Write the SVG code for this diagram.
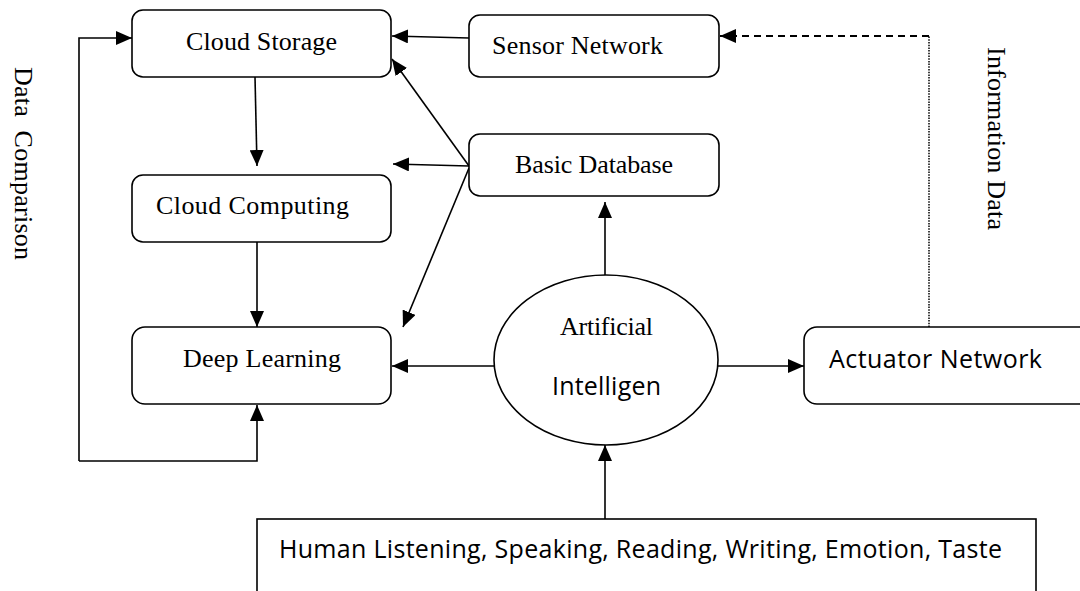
<svg xmlns="http://www.w3.org/2000/svg" width="1080" height="591" viewBox="0 0 1080 591">
<style>
.box{fill:#fff;stroke:#000;stroke-width:1.6}
.ser{font-family:"Liberation Serif","Times New Roman",serif;font-size:26px;fill:#000}
.sans{font-family:"Open Sans","Liberation Sans",sans-serif;font-size:25px;fill:#000}
.ln{fill:none;stroke:#000;stroke-width:1.6}
</style>
<defs>
<marker id="ah" markerUnits="userSpaceOnUse" markerWidth="16" markerHeight="14" refX="16" refY="7" orient="auto" viewBox="0 0 16 14">
<path d="M0,0 L16,7 L0,14 z" fill="#000"/>
</marker>
</defs>
<rect width="1080" height="591" fill="#fff"/>
<g id="connectors">
<path class="ln" d="M79,461 L79,38 L132,38" marker-end="url(#ah)"/>
<path class="ln" d="M79,461 L257,461 L257,405" marker-end="url(#ah)"/>
<path class="ln" d="M469,38 L392,36" marker-end="url(#ah)"/>
<path class="ln" d="M469,166 L392,59" marker-end="url(#ah)"/>
<path class="ln" d="M469,166 L393,164" marker-end="url(#ah)"/>
<path class="ln" d="M469,168 L403,327" marker-end="url(#ah)"/>
<path class="ln" d="M255,77 L257,166" marker-end="url(#ah)"/>
<path class="ln" d="M257,242 L257,327" marker-end="url(#ah)"/>
<path class="ln" d="M494,366 L392,366" marker-end="url(#ah)"/>
<path class="ln" d="M718,366 L804,366" marker-end="url(#ah)"/>
<path class="ln" d="M605,275 L605,202" marker-end="url(#ah)"/>
<path class="ln" d="M605,519 L605,445" marker-end="url(#ah)"/>
<path fill="none" stroke="#000" stroke-width="1.5" stroke-dasharray="1.5,1.2" d="M929,327 L929,36"/>
<path fill="none" stroke="#000" stroke-width="2" stroke-dasharray="7,5" d="M929,36 L720,36" marker-end="url(#ah)"/>
</g>
<g id="cloud-storage">
<rect class="box" x="132" y="10" width="259" height="67" rx="11"/>
<text class="ser" x="186" y="50" textLength="151">Cloud Storage</text>
</g>
<g id="sensor-network">
<rect class="box" x="469" y="15" width="250" height="62" rx="11"/>
<text class="ser" x="492" y="54" textLength="171">Sensor Network</text>
</g>
<g id="cloud-computing">
<rect class="box" x="132" y="175" width="259" height="67" rx="11"/>
<text class="ser" x="156" y="214" textLength="193">Cloud Computing</text>
</g>
<g id="basic-database">
<rect class="box" x="469" y="134" width="250" height="62" rx="11"/>
<text class="ser" x="515" y="173" textLength="158">Basic Database</text>
</g>
<g id="deep-learning">
<rect class="box" x="132" y="327" width="259" height="77" rx="13"/>
<text class="ser" x="183" y="367" textLength="158">Deep Learning</text>
</g>
<g id="artificial-intelligence">
<ellipse class="box" cx="606" cy="360" rx="112" ry="85"/>
<text class="ser" x="560" y="335" textLength="93">Artificial</text>
<text class="sans" x="552" y="395" textLength="109">Intelligen</text>
</g>
<g id="actuator-network">
<rect class="box" x="804" y="327" width="290" height="77" rx="13"/>
<text class="sans" x="829" y="368" textLength="213">Actuator Network</text>
</g>
<g id="human-input">
<rect class="box" x="257" y="519" width="779" height="100"/>
<text class="sans" x="279" y="558" textLength="723">Human Listening, Speaking, Reading, Writing, Emotion, Taste</text>
</g>
<g id="labels">
<text class="ser" transform="translate(15,67) rotate(90)" xml:space="preserve" textLength="193">Data  Comparison</text>
<text class="ser" transform="translate(988,47) rotate(90)" textLength="183">Information Data</text>
</g>
</svg>
